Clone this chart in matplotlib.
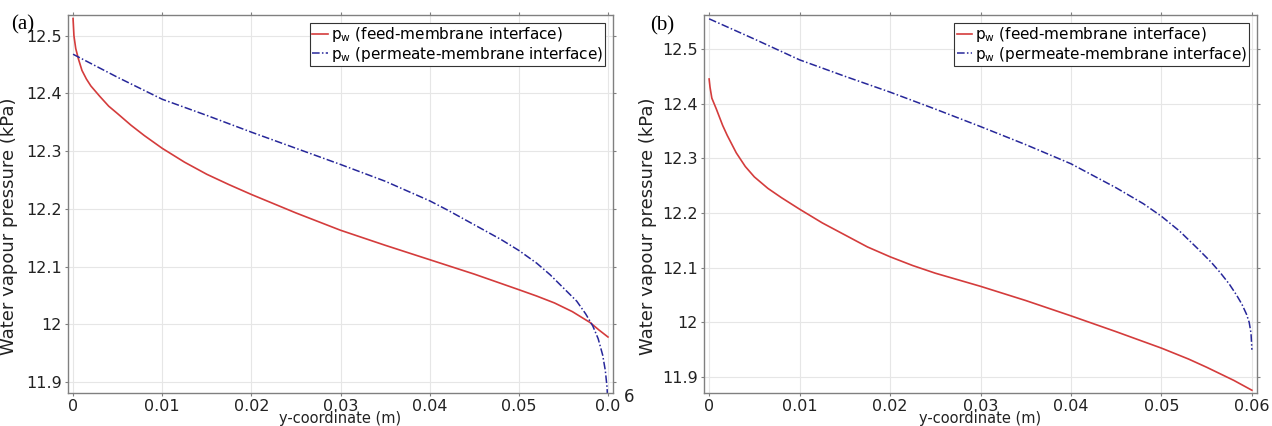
import matplotlib
matplotlib.use("Agg")
import matplotlib.pyplot as plt

# panel (a)
a_feed_x = [0, 0.0001, 0.0003, 0.0006, 0.001, 0.0015, 0.002, 0.003, 0.004, 0.005, 0.0065,
            0.008, 0.01, 0.0125, 0.015, 0.0175, 0.02, 0.025, 0.03, 0.035, 0.04, 0.045,
            0.05, 0.052, 0.054, 0.056, 0.058, 0.059, 0.06]
a_feed_y = [12.53, 12.50, 12.478, 12.46, 12.44, 12.425, 12.413, 12.395, 12.378, 12.365, 12.345,
            12.327, 12.305, 12.281, 12.26, 12.242, 12.225, 12.193, 12.163, 12.137, 12.112, 12.087,
            12.06, 12.049, 12.037, 12.022, 12.003, 11.99, 11.978]
a_perm_x = [0, 0.005, 0.01, 0.015, 0.02, 0.025, 0.03, 0.035, 0.04, 0.042, 0.044, 0.046,
            0.048, 0.05, 0.052, 0.0535, 0.055, 0.0565, 0.0575, 0.0583, 0.0589, 0.0594,
            0.0597, 0.0599, 0.06]
a_perm_y = [12.468, 12.428, 12.39, 12.362, 12.333, 12.305, 12.277, 12.248, 12.214, 12.198,
            12.181, 12.164, 12.147, 12.128, 12.106, 12.086, 12.063, 12.04, 12.018, 11.997,
            11.975, 11.947, 11.92, 11.89, 11.85]

# panel (b)
b_feed_x = [0, 0.0001, 0.0003, 0.0008, 0.0015, 0.002, 0.003, 0.004, 0.005, 0.0065, 0.008,
            0.01, 0.0125, 0.015, 0.0175, 0.02, 0.0225, 0.025, 0.03, 0.035, 0.04, 0.045, 0.05,
            0.053, 0.055, 0.057, 0.058, 0.059, 0.06]
b_feed_y = [12.445, 12.43, 12.41, 12.39, 12.36, 12.342, 12.31, 12.285, 12.266, 12.245, 12.228,
            12.207, 12.182, 12.16, 12.138, 12.12, 12.104, 12.09, 12.066, 12.04, 12.012, 11.983,
            11.953, 11.933, 11.918, 11.902, 11.894, 11.885, 11.876]
b_perm_x = [0, 0.005, 0.01, 0.015, 0.02, 0.025, 0.03, 0.035, 0.04, 0.045, 0.048, 0.05,
            0.052, 0.054, 0.0555, 0.0565, 0.0575, 0.0583, 0.0589, 0.0594, 0.0597, 0.0599, 0.06]
b_perm_y = [12.555, 12.518, 12.48, 12.45, 12.421, 12.39, 12.358, 12.325, 12.29, 12.246,
            12.217, 12.194, 12.167, 12.135, 12.11, 12.091, 12.07, 12.05, 12.033, 12.015,
            12.0, 11.98, 11.95]

xticks = [0, 0.01, 0.02, 0.03, 0.04, 0.05, 0.06]
a_xticklabels = ["0", "0.01", "0.02", "0.03", "0.04", "0.05", "0.0"]
b_xticklabels = ["0", "0.01", "0.02", "0.03", "0.04", "0.05", "0.06"]
yticks = [11.9, 12.0, 12.1, 12.2, 12.3, 12.4, 12.5]
yticklabels = ["11.9", "12", "12.1", "12.2", "12.3", "12.4", "12.5"]

feed_label = r"p$_{\mathrm{w}}$ (feed-membrane interface)"
perm_label = r"p$_{\mathrm{w}}$ (permeate-membrane interface)"

RED = "#d43c3c"
BLUE = "#27279a"

fig = plt.figure(figsize=(12.72, 4.26), dpi=100)
axa = fig.add_axes([0.0535, 0.0775, 0.4284, 0.8873])
axb = fig.add_axes([0.5535, 0.0775, 0.4347, 0.8873])

panels = [
    (axa, a_feed_x, a_feed_y, a_perm_x, a_perm_y, a_xticklabels, (11.881, 12.536), -0.092),
    (axb, b_feed_x, b_feed_y, b_perm_x, b_perm_y, b_xticklabels, (11.871, 12.562), -0.085),
]

for ax, fx, fy, px, py, xtl, ylim, ylab_x in panels:
    ax.plot(fx, fy, color=RED, lw=1.2, label=feed_label)
    ax.plot(px, py, color=BLUE, lw=1.1, linestyle=(0, (5, 1.5, 1, 1.5)), label=perm_label)
    ax.set_xlim(-0.00056, 0.06056)
    ax.set_ylim(*ylim)
    ax.set_xticks(xticks)
    ax.set_xticklabels(xtl)
    ax.set_yticks(yticks)
    ax.set_yticklabels(yticklabels)
    ax.grid(True, color="#e6e6e6", lw=0.8)
    ax.tick_params(labelsize=11.5, length=2.5, width=0.8, color="#808080",
                   labelcolor="#222222", top=True, right=True, pad=2)
    for s in ax.spines.values():
        s.set_color("#808080")
        s.set_linewidth(1.0)
    ax.set_xlabel("y-coordinate (m)", fontsize=10.5, labelpad=-2.5, color="#222222")
    ax.set_ylabel("Water vapour pressure (kPa)", fontsize=13, color="#222222")
    ax.yaxis.set_label_coords(ylab_x, 0.442)
    leg = ax.legend(loc="upper right", fontsize=11, handlelength=1.0, handletextpad=0.2,
                    borderpad=0.15, labelspacing=0.05, fancybox=False, framealpha=1,
                    borderaxespad=0.5)
    leg.get_frame().set_edgecolor("#333333")
    leg.get_frame().set_linewidth(0.8)

# broken last tick label in panel (a)
fig.text(629 / 1272, 1 - 397 / 426, "6", fontsize=12, ha="center", va="center",
         color="#222222")

fig.text(11 / 1272, 1 - 25 / 426, "(a)", fontsize=15, family="Liberation Serif",
         ha="left", va="center")
fig.text(650 / 1272, 1 - 26 / 426, "(b)", fontsize=15, family="Liberation Serif",
         ha="left", va="center")

fig.savefig("out.png", dpi=100)
